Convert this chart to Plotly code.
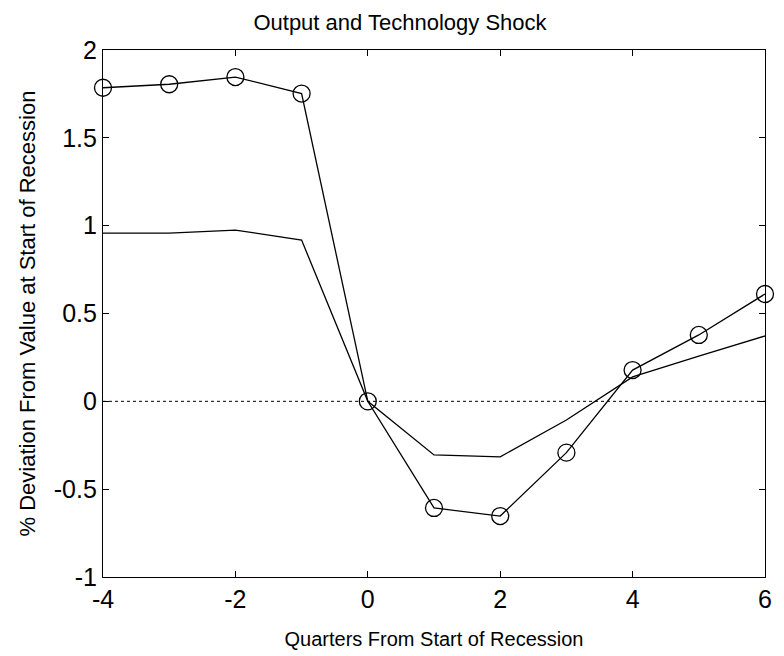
import plotly.graph_objects as go

quarters = [-4, -3, -2, -1, 0, 1, 2, 3, 4, 5, 6]
output_dev = [1.785, 1.805, 1.846, 1.752, 0.0, -0.607, -0.653, -0.292, 0.178, 0.378, 0.611]
tech_dev = [0.958, 0.958, 0.975, 0.918, 0.0, -0.305, -0.316, -0.106, 0.139, 0.258, 0.372]
zero_line = [0.0, 0.0]
zero_x = [-4, 6]
x_ticks = [-4, -2, 0, 2, 4, 6]
x_ticktext = ["-4", "-2", "0", "2", "4", "6"]
y_ticks = [-1, -0.5, 0, 0.5, 1, 1.5, 2]
y_ticktext = ["-1", "-0.5", "0", "0.5", "1", "1.5", "2"]

FONT = "Liberation Sans, Arial, Helvetica"

fig = go.Figure()
fig.add_trace(go.Scatter(x=zero_x, y=zero_line, mode="lines",
                         line=dict(color="black", width=1, dash="dot"),
                         showlegend=False, hoverinfo="skip"))
fig.add_trace(go.Scatter(x=quarters, y=tech_dev, mode="lines",
                         line=dict(color="black", width=1.3), showlegend=False))
fig.add_trace(go.Scatter(x=quarters, y=output_dev, mode="lines+markers",
                         line=dict(color="black", width=1.3),
                         marker=dict(symbol="circle-open", size=17, color="black",
                                     line=dict(width=1.3, color="black")),
                         cliponaxis=False, showlegend=False))

axis_common = dict(showgrid=False, zeroline=False, showline=True, linecolor="black",
                   linewidth=1.2, mirror="ticks", ticks="inside", ticklen=6,
                   tickcolor="black", tickfont=dict(family=FONT, size=25, color="black"))

fig.update_layout(
    width=784, height=656,
    plot_bgcolor="white", paper_bgcolor="white",
    margin=dict(l=95, r=27, t=42, b=87),
    title=dict(text="Output and Technology Shock", x=0.5, xanchor="center",
               y=1 - 14 / 656, yanchor="middle",
               font=dict(family=FONT, size=22, color="black")),
    xaxis=dict(range=[-4, 6], tickvals=x_ticks, ticktext=x_ticktext,
               title=dict(text="Quarters From Start of Recession", standoff=19,
                          font=dict(family=FONT, size=20, color="black")),
               **axis_common),
    yaxis=dict(range=[-1, 2], tickvals=y_ticks, ticktext=y_ticktext,
               title=dict(text="% Deviation From Value at Start of Recession", standoff=12,
                          font=dict(family=FONT, size=22, color="black")),
               **axis_common),
)

fig.write_html("out.html")
